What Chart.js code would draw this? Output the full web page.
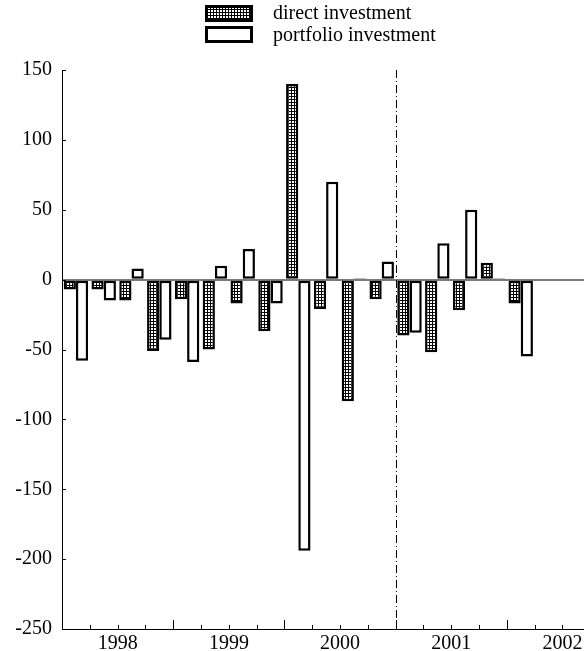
<!DOCTYPE html>
<html>
<head>
<meta charset="utf-8">
<script src="https://cdn.jsdelivr.net/npm/chart.js@4.4.1/dist/chart.umd.min.js"></script>
<style>
  html, body { margin: 0; padding: 0; overflow: hidden; background: #fff; }
  #wrap { position: absolute; left: 0; top: 0; }
</style>
</head>
<body>
<div id="wrap"><canvas id="graphic" width="640" height="651"></canvas></div>
<script>
// quarters 1998Q1 .. 2002Q4 (axis runs past the right edge of the picture)
const quarters = [
  '1998Q1', '1998Q2', '1998Q3', '1998Q4',
  '1999Q1', '1999Q2', '1999Q3', '1999Q4',
  '2000Q1', '2000Q2', '2000Q3', '2000Q4',
  '2001Q1', '2001Q2', '2001Q3', '2001Q4',
  '2002Q1', '2002Q2', '2002Q3', '2002Q4',
];
const yearLabels = ['1998', '1999', '2000', '2001', '2002'];
const directInvestment = [-7, -7, -15, -51, -14, -50, -17, -37, 140, -21, -87, -14, -40, -52, -22, 12, -17];
const portfolioInvestment = [-58, -15, 8, -43, -59, 10, 22, -17, -194, 70, 1, 13, -38, 26, 50, 1, -55];
const yMin = -250;
const yMax = 150;
const yStep = 50;
const dashedAfter = '2000Q4';

const FONT = 'Liberation Serif, Times New Roman, serif';
const canvas = document.getElementById('graphic');
const ctx = canvas.getContext('2d');

function hatch() {
  const c = document.createElement('canvas');
  c.width = 3;
  c.height = 3;
  const g = c.getContext('2d');
  g.fillStyle = '#fff';
  g.fillRect(0, 0, 3, 3);
  g.fillStyle = '#000';
  g.fillRect(0, 0, 3, 1);
  g.fillRect(0, 0, 1, 3);
  return ctx.createPattern(c, 'repeat');
}
const grid = hatch();

// legend stacked vertically, tick marks pointing inward, dash-dot divider
const decor = {
  id: 'decor',
  beforeDatasetsDraw(chart) {
    const { ctx: c, chartArea: a, scales: { x } } = chart;
    const i = quarters.indexOf(dashedAfter);
    const xd = Math.round((x.getPixelForValue(i) + x.getPixelForValue(i + 1)) / 2) + 0.5;
    c.save();
    c.strokeStyle = '#000';
    c.lineWidth = 1;
    c.setLineDash([8, 3, 1, 3]);
    c.beginPath();
    c.moveTo(xd, a.top);
    c.lineTo(xd, a.bottom);
    c.stroke();
    c.restore();
  },
  afterDraw(chart) {
    const { ctx: c, chartArea: a, scales: { x, y } } = chart;
    c.save();
    c.strokeStyle = '#000';
    c.lineWidth = 1;
    c.beginPath();
    for (let v = yMin; v <= yMax; v += yStep) {
      const py = Math.round(y.getPixelForValue(v)) + 0.5;
      c.moveTo(a.left, py);
      c.lineTo(a.left + 4, py);
    }
    for (let i = 1; i < quarters.length; i++) {
      const px = Math.round((x.getPixelForValue(i - 1) + x.getPixelForValue(i)) / 2) + 0.5;
      const len = i % 4 === 0 ? 9 : 4;
      c.moveTo(px, a.bottom);
      c.lineTo(px, a.bottom - len);
    }
    c.stroke();

    // legend
    const boxes = [[205, 5, 14], [205, 26, 36]];
    chart.data.datasets.forEach((ds, k) => {
      const [bx, by, ty] = boxes[k];
      c.fillStyle = ds.backgroundColor;
      c.fillRect(bx, by, 48, 17);
      c.lineWidth = 3;
      c.strokeRect(bx + 1.5, by + 1.5, 45, 14);
      c.fillStyle = '#000';
      c.font = '20px ' + FONT;
      c.textBaseline = 'middle';
      c.fillText(ds.label, 273, ty);
    });
    c.restore();
  },
};

new Chart(ctx, {
  type: 'bar',
  data: {
    labels: quarters,
    datasets: [
      {
        label: 'direct investment',
        data: directInvestment,
        backgroundColor: grid,
        borderColor: '#000',
        borderWidth: 2.5,
        borderSkipped: false,
      },
      {
        label: 'portfolio investment',
        data: portfolioInvestment,
        backgroundColor: '#fff',
        borderColor: '#000',
        borderWidth: 2.5,
        borderSkipped: false,
      },
    ],
  },
  options: {
    responsive: false,
    animation: false,
    layout: { padding: { top: 70, right: 22, left: 0, bottom: 0 } },
    datasets: { bar: { categoryPercentage: 0.88, barPercentage: 1 } },
    plugins: { legend: { display: false }, tooltip: { enabled: false } },
    scales: {
      x: {
        grid: { display: false },
        border: { display: true, color: '#000', width: 1 },
        ticks: {
          autoSkip: false,
          maxRotation: 0,
          labelOffset: 14,
          padding: -5,
          color: '#000',
          font: { family: FONT, size: 20 },
          callback: (v, i) => (i % 4 === 1 ? yearLabels[Math.floor(i / 4)] : ''),
        },
        afterFit: (s) => { s.height = 22; },
      },
      y: {
        min: yMin,
        max: yMax,
        grid: {
          drawTicks: false,
          lineWidth: 2,
          color: (c) => (c.tick && c.tick.value === 0 ? '#7a7a7a' : 'rgba(0,0,0,0)'),
        },
        border: { display: true, color: '#000', width: 1 },
        ticks: {
          stepSize: yStep,
          padding: 10,
          color: '#000',
          font: { family: FONT, size: 20 },
        },
        afterFit: (s) => { s.width = 62; },
      },
    },
  },
  plugins: [decor],
});
</script>
</body>
</html>
